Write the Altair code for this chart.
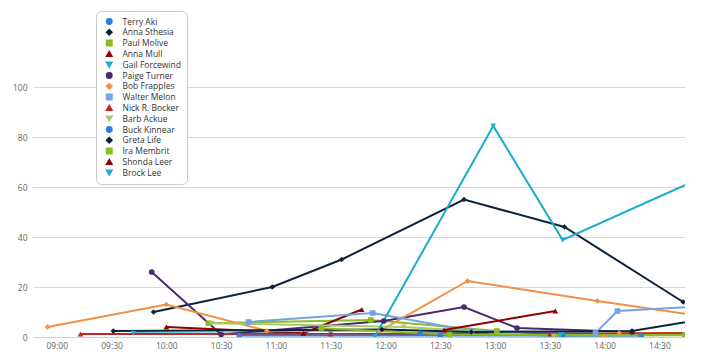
import altair as alt
import pandas as pd

names = ["Terry Aki", "Anna Sthesia", "Paul Molive", "Anna Mull", "Gail Forcewind",
         "Paige Turner", "Bob Frapples", "Walter Melon", "Nick R. Bocker", "Barb Ackue",
         "Buck Kinnear", "Greta Life", "Ira Membrit", "Shonda Leer", "Brock Lee"]
colors = ["#2f7ed8", "#0d233a", "#8bbc21", "#910000", "#1aadce",
          "#492970", "#f28f43", "#77a1e5", "#c42525", "#a6c96a",
          "#2f7ed8", "#0d233a", "#8bbc21", "#910000", "#1aadce"]
shapes = ["circle", "diamond", "square", "triangle-up", "triangle-down"] * 3

# each series: list of segments, each segment (times, values)
terry = [(["12:19", "13:37", "14:44"], [1.5, 1.0, 0.8])]
anna_s = [(["09:53", "10:58", "11:36", "12:43", "13:38", "14:43"], [10, 20, 31, 55, 44, 14])]
paul = [(["10:23", "11:52", "13:01"], [5.5, 6.8, 2.4])]
anna_m = [(["10:00", "11:15", "11:47"], [4, 1.5, 11])]
gail = [(["09:42", "11:30", "13:36"], [1.5, 1.2, 0.8])]
paige = [(["09:52", "10:30", "11:59", "12:43", "13:12", "14:15"], [26, 1, 6.4, 12, 3.6, 2])]
bob = [(["08:55", "10:00", "10:55", "11:57", "12:45", "13:56", "15:00"], [4, 13, 2.5, 2.5, 22.4, 14.4, 7.6]),
       (["14:00", "14:08", "15:00"], [0.4, 1.6, 1.6])]
walter = [(["10:45", "11:53", "12:47", "13:55", "14:07", "15:00"], [6, 9.6, 2.4, 1.6, 10.4, 12.6])]
nick = [(["09:13", "11:30", "13:30", "15:00"], [1.2, 1.2, 1.3, 1.5])]
barb = [(["10:25", "12:10", "13:32", "14:44"], [5.5, 4, 0.3, 0.8])]
buck = [(["10:40", "12:30", "14:20"], [0.6, 0.6, 0.6])]
greta = [(["09:31", "11:58", "12:47", "14:15", "15:00"], [2.4, 3, 2, 2.4, 7.8])]
ira = [(["11:25", "12:35", "14:44"], [3.5, 1, 0.7])]
shonda = [(["12:32", "13:33"], [2.8, 10.4])]
brock = [(["11:54", "12:59", "13:37", "15:00"], [0, 84.4, 38.8, 66])]

series = [terry, anna_s, paul, anna_m, gail, paige, bob, walter, nick, barb,
          buck, greta, ira, shonda, brock]


def minutes(t):
    h, m = t.split(":")
    return (int(h) - 9) * 60 + int(m)


rows = []
for name, segs in zip(names, series):
    for si, (ts, vs) in enumerate(segs):
        for t, v in zip(ts, vs):
            rows.append({"name": name, "seg": f"{name}-{si}", "m": minutes(t), "v": v})
df = pd.DataFrame(rows)

x = alt.X("m:Q",
          scale=alt.Scale(domain=[-13, 344], nice=False, zero=False),
          axis=alt.Axis(values=list(range(0, 331, 30)),
                        labelExpr="timeFormat(datetime(2000,0,1,9,datum.value),'%H:%M')",
                        title=None, grid=False, ticks=False, domainColor="#C0D0E0",
                        labelColor="#666666", labelFontSize=8.5, labelFont="Open Sans",
                        labelPadding=4))
y = alt.Y("v:Q",
          scale=alt.Scale(domain=[0, 100], nice=False),
          axis=alt.Axis(values=[0, 20, 40, 60, 80, 100], title=None, domain=False,
                        ticks=False, gridColor="#D8D8D8", labelColor="#666666",
                        labelFontSize=8.5, labelFont="Open Sans", labelPadding=6))
color = alt.Color("name:N", scale=alt.Scale(domain=names, range=colors),
                  legend=alt.Legend(title=None))
shape = alt.Shape("name:N", scale=alt.Scale(domain=names, range=shapes),
                  legend=alt.Legend(title=None))

base = alt.Chart(df)
lines = base.mark_line(strokeWidth=2, clip=True).encode(
    x=x, y=y, color=color, detail="seg:N", order="m:Q")
points = base.mark_point(filled=True, size=32, opacity=1, clip=True).encode(
    x=x, y=y, color=color, shape=shape)

chart = (alt.layer(lines, points)
         .properties(width=652, height=250,
                     autosize=alt.AutoSizeParams(type="none"),
                     padding={"left": 25, "top": 79, "right": 13, "bottom": 13})
         .configure_view(stroke=None)
         .configure_legend(orient="none", legendX=63, legendY=-76, padding=6,
                           strokeColor="#cccccc", cornerRadius=5, fillColor="white",
                           labelFont="Open Sans", labelFontSize=8.5, labelColor="#333333",
                           symbolSize=30, rowPadding=1.8, clipHeight=9, labelOffset=9,
                           symbolOffset=3))

chart.save("out.html", embed_options={"renderer": "svg", "actions": False})
